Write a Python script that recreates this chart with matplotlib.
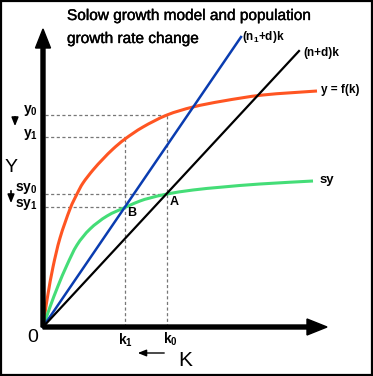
import matplotlib
matplotlib.use("Agg")
import matplotlib.pyplot as plt
import matplotlib.patheffects as pe
from matplotlib.path import Path
from matplotlib.patches import PathPatch

# values (units: pixels from the origin)
k_f = [0, 2, 5, 10, 17, 27, 34, 40, 50, 60, 70, 82, 100, 124, 150, 180, 220, 274]
y_f = [0, 14, 33, 60, 89, 118, 133, 144, 157, 168, 178, 188, 200, 212, 220, 226, 232, 236]

k_s = [0, 7, 15, 24, 34, 47, 64, 83, 97, 107, 124, 150, 180, 217, 270]
y_s = [0, 20, 41, 62, 82, 98, 111, 120, 126, 129, 133, 137, 140, 143, 146]

k_n1 = [0, 198]
y_n1 = [0, 290]
k_n = [0, 256]
y_n = [0, 276]

k0, k1 = 124, 82
y0, y1 = 212, 190
sy0, sy1 = 133, 120

title_lines = ["Solow growth model and population", "growth rate change"]

FONT = ["Liberation Sans", "DejaVu Sans"]
plt.rcParams["font.family"] = FONT
plt.rcParams["mathtext.fontset"] = "custom"
plt.rcParams["mathtext.rm"] = "Liberation Sans"
plt.rcParams["mathtext.bf"] = "Liberation Sans:bold"


def smooth_curve(ax, xs, ys, **kw):
    # draws the read points as one smooth path (Catmull-Rom as Bezier)
    pts = list(zip(xs, ys))
    verts = [pts[0]]
    codes = [Path.MOVETO]
    for i in range(len(pts) - 1):
        p0 = pts[max(i - 1, 0)]
        p1 = pts[i]
        p2 = pts[i + 1]
        p3 = pts[min(i + 2, len(pts) - 1)]
        c1 = (p1[0] + (p2[0] - p0[0]) / 6, p1[1] + (p2[1] - p0[1]) / 6)
        c2 = (p2[0] - (p3[0] - p1[0]) / 6, p2[1] - (p3[1] - p1[1]) / 6)
        verts += [c1, c2, p2]
        codes += [Path.CURVE4] * 3
    ax.add_patch(PathPatch(Path(verts, codes), fill=False, **kw))


fig = plt.figure(figsize=(3.73, 3.76), dpi=100)
ax = fig.add_axes([0, 0, 1, 1])
ax.set_xlim(-43, 330)
ax.set_ylim(-49, 327)
ax.axis("off")

# frame round the picture
fig.patches.append(plt.Rectangle((0.002, 0.002), 0.996, 0.996, transform=fig.transFigure,
                                 fill=False, lw=1.6, ec="black"))

# axes with arrows
ax.arrow(0, 0, 0, 298, width=4, head_width=15, head_length=19,
         length_includes_head=True, color="black", zorder=5)
ax.arrow(0, 0, 284, 0, width=4, head_width=16, head_length=20,
         length_includes_head=True, color="black", zorder=5)

# guide lines
dash = dict(color="#777777", lw=0.9, ls=(0, (2.5, 2)), zorder=1)
ax.plot([2, k0], [y0, y0], **dash)
ax.plot([2, k1], [y1, y1], **dash)
ax.plot([2, k0], [sy0, sy0], **dash)
ax.plot([2, k1], [sy1, sy1], **dash)
ax.plot([k0, k0], [0, y0], **dash)
ax.plot([k1, k1], [0, y1], **dash)

# curves
smooth_curve(ax, k_f, y_f, ec="#ff5522", lw=2.2, zorder=3)
smooth_curve(ax, k_s, y_s, ec="#44dd77", lw=2.2, zorder=3)
ax.plot(k_n1, y_n1, color="#0a3cb0", lw=1.8, zorder=3)
ax.plot(k_n, y_n, color="black", lw=1.6, zorder=3)

# title, squeezed to the width it has in the picture
heavy = [pe.withStroke(linewidth=0.3, foreground="black")]
t1 = ax.text(24, 307, title_lines[0], fontsize=12, va="baseline", ha="left",
             path_effects=heavy)
t2 = ax.text(24, 284, title_lines[1], fontsize=12, va="baseline", ha="left",
             path_effects=heavy)
fig.canvas.draw()
fs = 12 * 245 / t1.get_window_extent().width
t1.set_fontsize(fs)
t2.set_fontsize(fs)

ax.text(199, 290, r"(n$_\mathbf{1}$+d)k", fontsize=8.5, fontweight="bold", va="center")
ax.text(260, 274, "(n+d)k", fontsize=8.5, fontweight="bold", va="center")
ax.text(278, 237, "y = f(k)", fontsize=8.5, fontweight="bold", va="center")
ax.text(277, 147, "sy", fontsize=9.5, fontweight="bold", va="center")

ax.text(-32, 159, "Y", fontsize=14, ha="center", va="center")
ax.text(-5, 216, r"y$_\mathbf{0}$", fontsize=10, fontweight="bold", ha="right", va="center")
ax.text(-5, 193, r"y$_\mathbf{1}$", fontsize=10, fontweight="bold", ha="right", va="center")
ax.text(-5, 139, r"sy$_\mathbf{0}$", fontsize=10, fontweight="bold", ha="right", va="center")
ax.text(-5, 123, r"sy$_\mathbf{1}$", fontsize=10, fontweight="bold", ha="right", va="center")
ax.annotate("", xy=(-28, 198), xytext=(-28, 213),
            arrowprops=dict(arrowstyle="-|>,head_length=0.5,head_width=0.2",
                            color="black", lw=1.2))
ax.annotate("", xy=(-32, 121), xytext=(-32, 139),
            arrowprops=dict(arrowstyle="-|>,head_length=0.5,head_width=0.2",
                            color="black", lw=1.2))

ax.text(k0 + 7, 125, "A", fontsize=9, fontweight="bold", ha="center", va="center")
ax.text(k1 + 7, 114, "B", fontsize=9, fontweight="bold", ha="center", va="center")

ax.text(-10, -10, "0", fontsize=14, ha="center", va="center")
ax.text(k1, -13, r"k$_\mathbf{1}$", fontsize=10, fontweight="bold", ha="center", va="center")
ax.text(k0 + 3, -12, r"k$_\mathbf{0}$", fontsize=10, fontweight="bold", ha="center", va="center")
ax.text(142, -33, "K", fontsize=15, ha="center", va="center")
ax.annotate("", xy=(92, -26), xytext=(124, -26),
            arrowprops=dict(arrowstyle="-|>,head_length=0.5,head_width=0.2",
                            color="black", lw=1.0))

fig.savefig("out.png", dpi=100)
plt.close(fig)
